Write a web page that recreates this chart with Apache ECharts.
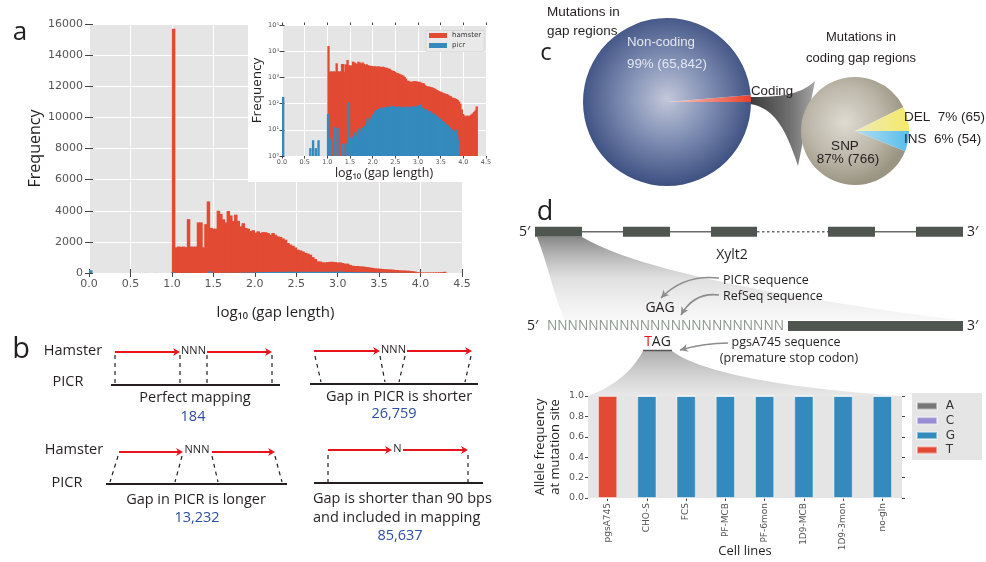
<!DOCTYPE html>
<html>
<head>
<meta charset="utf-8">
<title>Gap analysis figure</title>
<script src="https://cdn.jsdelivr.net/npm/echarts@6.0.0/dist/echarts.min.js"></script>
<style>
html, body { margin:0; padding:0; background:#ffffff; }
#chart { width:986px; height:562px; }
</style>
</head>
<body>
<div id="chart"></div>
<script>
// ================= DATA =================
// Panel a: histogram of log10(gap length), bins of equal width
const binWidth = 0.03;
const hamsterStart = 1.0;
const hamsterCounts = [
  15700, 1650, 1700, 1680, 1700, 1660, 3460, 1700, 1690, 1700,
  3250, 3250, 1650, 3140, 4600, 2900, 2850, 2850, 4000, 3800,
  3450, 3250, 3980, 3700, 3350, 3750, 3350, 3000, 3200, 2900,
  2850, 2700, 2750, 2600, 2680, 2570, 2630, 2620, 2570, 2460,
  2570, 2460, 2350, 2320, 2220, 2140, 1930, 1820, 1750, 1640,
  1500, 1450, 1390, 1300, 1250, 1180, 1030, 900, 750, 740,
  690, 680, 700, 720, 720, 700, 680, 680, 640, 600,
  600, 520, 470, 450, 450, 430, 420, 400, 380, 350,
  330, 300, 290, 280, 260, 250, 240, 230, 220, 200,
  190, 170, 165, 160, 150, 140, 120, 100, 60, 40,
  35, 32, 35, 33, 35, 38, 42, 48, 55, 78
];
const picrSparseX = [0.00, 0.60, 0.66, 0.72, 0.78, 0.99, 1.02, 1.05, 1.14, 1.20, 1.32, 1.38];
const picrSparseCounts = [180, 2, 4, 2, 4, 40, 5, 4, 13, 12, 3, 3];
const picrStart = 1.44;
const picrCounts = [
  110, 3, 5, 5, 6, 8, 6, 9, 11, 8,
  12, 10, 14, 18, 28, 17, 24, 30, 38, 45,
  52, 58, 62, 64, 70, 66, 72, 70, 75, 71,
  78, 74, 82, 72, 78, 75, 70, 79, 72, 76,
  70, 74, 72, 78, 70, 76, 72, 80, 70, 78,
  75, 86, 80, 92, 72, 66, 60, 62, 54, 50,
  52, 45, 40, 42, 36, 34, 30, 28, 25, 22,
  20, 18, 16, 15, 13, 12, 10, 9, 8, 10,
  6, 4
];

// Panel b: mapping cases
const mappingCases = ['Perfect mapping', 'Gap in PICR is shorter', 'Gap in PICR is longer', 'Gap is shorter than 90 bps\nand included in mapping'];
const mappingCounts = [184, 26759, 13232, 85637];

// Panel c: mutations
const gapMutLabels = ['Coding', 'Non-coding'];
const gapMutCounts = [885, 65842];
const codingMutLabels = ['DEL', 'INS', 'SNP'];
const codingMutCounts = [65, 54, 766];
const codingMutPct = [7, 6, 87];

// Panel d: allele frequencies
const cellLines = ['pgsA745', 'CHO-S', 'FCS', 'PF-MCB', 'PF-6mon', '1D9-MCB', '1D9-3mon', 'no-gln'];
const alleleA = [0, 0, 0, 0, 0, 0, 0, 0];
const alleleC = [0, 0, 0, 0, 0, 0, 0, 0];
const alleleG = [0, 1, 1, 1, 1, 1, 1, 1];
const alleleT = [1, 0, 0, 0, 0, 0, 0, 0];

// ================= STYLE =================
const FD = '"DejaVu Sans", sans-serif';
const FM = '"Open Sans", "Noto Sans", sans-serif';
const FA = '"Liberation Sans", Arial, sans-serif';
const C_RED = '#E24A33', C_BLUE = '#348ABD', C_PURPLE = '#988ED5', C_GREY = '#777777';
const BG = '#E5E5E5';
const INK = '#231f20';
const fmt = n => String(n).replace(/\B(?=(\d{3})+(?!\d))/g, ',');
const SUP = ['\u2070', '\u00b9', '\u00b2', '\u00b3', '\u2074', '\u2075'];

const hamsterData = hamsterCounts.map((c, i) => [hamsterStart + i * binWidth, hamsterStart + (i + 1) * binWidth, c]);
const picrData = picrSparseX.map((x, i) => [x, x + binWidth, picrSparseCounts[i]])
  .concat(picrCounts.map((c, i) => [picrStart + i * binWidth, picrStart + (i + 1) * binWidth, c]));

function histSeries(name, data, xi, yi, base, color, z) {
  return {
    type: 'custom', name, xAxisIndex: xi, yAxisIndex: yi, z, clip: true, silent: true,
    itemStyle: { color }, encode: { x: [0, 1], y: 2 }, data,
    renderItem(params, api) {
      const v = api.value(2);
      if (!(v > base)) return null;
      const a = api.coord([api.value(0), v]);
      const b = api.coord([api.value(1), base]);
      return { type: 'rect', shape: { x: a[0], y: a[1], width: b[0] - a[0] + 1, height: b[1] - a[1] }, style: { fill: color } };
    }
  };
}

// ================= GRAPHICS (diagrams / annotations) =================
const G = [];
function add(e) { e.silent = true; G.push(e); }
function text(x, y, s, o) {
  o = o || {};
  const al = o.align || 'center';
  const st = { text: s, fill: o.color || INK, fontSize: o.size || 14.5, fontFamily: o.font || FM,
    align: al, textAlign: al, verticalAlign: 'middle', textVerticalAlign: 'middle' };
  if (o.lh) st.lineHeight = o.lh;
  if (o.rich) st.rich = o.rich;
  add({ type: 'text', x, y, z: o.z != null ? o.z : 20, style: st });
}
function line(x1, y1, x2, y2, o) {
  o = o || {};
  add({ type: 'line', z: o.z != null ? o.z : 20, shape: { x1, y1, x2, y2 },
    style: { stroke: o.color || INK, lineWidth: o.w || 1.5, lineDash: o.dash || null, fill: null } });
}
function dashed(x1, y1, x2, y2) { line(x1, y1, x2, y2, { w: 1.2, dash: [4, 4] }); }
function arrowHead(x, y, ang, color, len, half) {
  const c = Math.cos(ang), s = Math.sin(ang);
  const bx = x - len * c, by = y - len * s;
  const nx = x - len * 0.7 * c, ny = y - len * 0.7 * s;
  add({ type: 'polygon', z: 20, shape: { points: [[x, y], [bx - half * s, by + half * c], [nx, ny], [bx + half * s, by - half * c]] }, style: { fill: color } });
}
function redArrow(x1, x2, y) {
  line(x1, y, x2 - 3, y, { color: '#e8141b', w: 2 });
  arrowHead(x2, y, 0, '#e8141b', 7, 4);
}
function curvedArrow(x1, y1, cx, cy, x2, y2) {
  add({ type: 'bezierCurve', z: 20, shape: { x1, y1, x2, y2, cpx1: cx, cpy1: cy }, style: { stroke: '#8c8c8c', lineWidth: 1.6, fill: null } });
  arrowHead(x2, y2, Math.atan2(y2 - cy, x2 - cx), '#8c8c8c', 8, 4);
}
function bez(p0, p1, p2, p3, n) {
  const pts = [];
  n = n || 24;
  for (let i = 0; i <= n; i++) {
    const t = i / n, u = 1 - t;
    pts.push([u * u * u * p0[0] + 3 * u * u * t * p1[0] + 3 * u * t * t * p2[0] + t * t * t * p3[0],
              u * u * u * p0[1] + 3 * u * u * t * p1[1] + 3 * u * t * t * p2[1] + t * t * t * p3[1]]);
  }
  return pts;
}
const LG = (x, y, x2, y2, stops) => new echarts.graphic.LinearGradient(x, y, x2, y2, stops);

// white box behind the inset
add({ type: 'rect', z: 10, shape: { x: 248, y: 0, width: 262, height: 182 }, style: { fill: '#ffffff' } });

// panel letters
text(20, 33, 'a', { size: 26 });
text(21, 350, 'b', { size: 29 });
text(546, 53, 'c', { size: 24 });
text(545, 212, 'd', { size: 27 });

// ---- Panel b ----
const BL = '#2b4ea2';
text(73, 351, 'Hamster'); text(68, 382, 'PICR');
text(74, 450, 'Hamster'); text(67, 483, 'PICR');
// case 1
redArrow(115, 180, 352); text(193.5, 351, 'NNN', { size: 11 }); redArrow(207, 272, 352);
[115, 180, 207, 272].forEach(x => dashed(x, 355, x, 383));
line(111, 385, 280, 385, { w: 2 });
text(195, 398, mappingCases[0]); text(193, 417, fmt(mappingCounts[0]), { color: BL });
// case 2
redArrow(314, 380, 351); text(393.5, 350, 'NNN', { size: 11 }); redArrow(407, 472, 351);
dashed(315, 356, 321, 382); dashed(380, 356, 385, 382); dashed(405, 356, 399, 382); dashed(471, 356, 465, 382);
line(310, 384, 478, 384, { w: 2 });
text(399, 397, mappingCases[1]); text(394, 414, fmt(mappingCounts[1]), { color: BL });
// case 3
redArrow(119, 183, 452); text(197, 450, 'NNN', { size: 11 }); redArrow(212, 275, 452);
dashed(118, 456, 110, 482); dashed(182, 456, 175, 482); dashed(212, 456, 218, 482); dashed(275, 456, 282, 482);
line(106, 484, 287, 484, { w: 2 });
text(196, 500, mappingCases[2]); text(197, 518, fmt(mappingCounts[2]), { color: BL });
// case 4
redArrow(328, 392, 450); text(397.5, 449, 'N', { size: 11 }); redArrow(403, 468, 450);
dashed(328, 455, 328, 482); dashed(468, 455, 468, 482);
line(314, 483, 483, 483, { w: 2 });
text(313, 508.5, mappingCases[3], { align: 'left', lh: 19 }); text(400, 536, fmt(mappingCounts[3]), { color: BL });

// ---- Panel c ----
const codingTotal = gapMutCounts[0];
const gapTotal = gapMutCounts[0] + gapMutCounts[1];
// connector between the two pies
add({ type: 'polygon', z: 1, shape: { points:
  bez([750, 97], [780, 97], [800, 95], [815, 81]).concat(bez([798, 166], [786, 130], [775, 108], [750, 104])) },
  style: { fill: LG(0, 0, 1, 0, [{ offset: 0, color: '#3b3b3b' }, { offset: 0.6, color: '#6e6e6e' }, { offset: 1, color: '#a5a5a5' }]) } });
text(547, 21.5, 'Mutations in\ngap regions', { align: 'left', size: 13.5, font: FA, lh: 19 });
text(627, 42, gapMutLabels[1], { align: 'left', size: 13.3, font: FA, color: '#e3e6ef' });
text(627, 64, Math.round(100 * gapMutCounts[1] / gapTotal) + '% (' + fmt(gapMutCounts[1]) + ')', { align: 'left', size: 13.3, font: FA, color: '#e3e6ef' });
text(751, 91, gapMutLabels[0], { align: 'left', size: 13.3, font: FA });
text(861, 47.5, 'Mutations in\ncoding gap regions', { size: 13, font: FA, lh: 21 });
text(904, 117, codingMutLabels[0] + '  ' + codingMutPct[0] + '% (' + codingMutCounts[0] + ')', { align: 'left', size: 13.5, font: FA });
text(904, 139, codingMutLabels[1] + '  ' + codingMutPct[1] + '% (' + codingMutCounts[1] + ')', { align: 'left', size: 13.5, font: FA });
text(845, 146, codingMutLabels[2], { size: 13.5, font: FA });
text(848, 159, codingMutPct[2] + '% (' + codingMutCounts[2] + ')', { size: 13.5, font: FA });

// ---- Panel d diagram ----
const EXON = '#4f5650';
// funnel from exon 1 to the zoomed sequence
add({ type: 'polygon', z: 1, shape: { points:
  bez([537, 237], [548, 265], [555, 300], [565, 320]).concat([[958, 320]]).concat(bez([958, 320], [800, 300], [640, 272], [582, 237])) },
  style: { fill: LG(0, 0, 0, 1, [{ offset: 0, color: 'rgba(115,115,115,0.85)' }, { offset: 0.5, color: 'rgba(185,185,185,0.45)' }, { offset: 1, color: 'rgba(225,225,225,0.25)' }]) } });
// funnel from TAG to bar chart
add({ type: 'polygon', z: 1, shape: { points:
  bez([643, 351], [630, 376], [605, 390], [588, 396]).concat([[902, 396]]).concat(bez([902, 396], [780, 388], [700, 372], [672, 351])) },
  style: { fill: LG(0, 0, 0, 1, [{ offset: 0, color: 'rgba(140,140,140,0.7)' }, { offset: 1, color: 'rgba(205,205,205,0.45)' }]) } });
// gene structure
line(582, 231.7, 623, 231.7, { color: '#6b6b6b', w: 1.5 });
line(670, 231.7, 711, 231.7, { color: '#6b6b6b', w: 1.5 });
line(757, 231.7, 828, 231.7, { color: '#6b6b6b', w: 1.5, dash: [2.5, 2.5] });
line(875, 231.7, 916, 231.7, { color: '#6b6b6b', w: 1.5 });
[[535, 582], [623, 670], [711, 757], [828, 875], [916, 963]].forEach(b =>
  add({ type: 'rect', z: 20, shape: { x: b[0], y: 226.7, width: b[1] - b[0], height: 10 }, style: { fill: EXON } }));
text(519, 232, '5\u2032', { align: 'left', size: 14 });
text(967, 232, '3\u2032', { align: 'left', size: 14 });
text(732, 255, 'Xylt2', { size: 14 });
// sequence row
text(527, 326, '5\u2032', { align: 'left', size: 14 });
text(547, 326, 'NNNNNNNNNNNNNNNNNNNNNNN', { align: 'left', size: 13.7, color: '#8a958b' });
add({ type: 'rect', z: 20, shape: { x: 788, y: 321, width: 175, height: 10 }, style: { fill: EXON } });
text(967, 326, '3\u2032', { align: 'left', size: 14 });
text(660, 308, 'GAG', { size: 14 });
text(657.5, 342, '{r|T}{k|AG}', { size: 14, rich: { r: { fill: '#e8141b', fontSize: 14, fontFamily: FM }, k: { fill: INK, fontSize: 14, fontFamily: FM } } });
line(643, 350.5, 672, 350.5, { color: '#555', w: 1.5 });
text(723, 280, 'PICR sequence', { align: 'left', size: 12.5 });
text(723, 296, 'RefSeq sequence', { align: 'left', size: 12.5 });
text(786, 342, 'pgsA745 sequence', { size: 12.5 });
text(789, 358, '(premature stop codon)', { size: 12.5 });
curvedArrow(719, 278, 684, 274, 661, 298);
curvedArrow(719, 295, 694, 292, 681, 315);
curvedArrow(728, 343, 705, 343, 680, 350);
// legend background for bar chart
add({ type: 'rect', z: 3, shape: { x: 912, y: 393, width: 70, height: 67 }, style: { fill: BG } });
// x-axis title of bar chart
text(745, 551, 'Cell lines', { size: 13 });

// ================= CHART =================
const tickStyle = { color: '#444', width: 1 };
function tickAxis(base) {
  return Object.assign({ axisLabel: { show: false }, splitLine: { show: false }, axisLine: { show: false } }, base);
}
const supFmt = v => '10' + SUP[Math.round(Math.log10(v))];

const option = {
  animation: false,
  backgroundColor: '#ffffff',
  grid: [
    { left: 89, top: 24, width: 373, height: 249, show: true, backgroundColor: BG, borderWidth: 0, z: 0, outerBoundsMode: 'none' },
    { left: 282, top: 25, width: 204, height: 131, show: true, backgroundColor: BG, borderWidth: 0, z: 11, outerBoundsMode: 'none' },
    { left: 588, top: 396, width: 314, height: 102, show: true, backgroundColor: BG, borderWidth: 0, z: 2, outerBoundsMode: 'none' }
  ],
  xAxis: [
    { type: 'value', gridIndex: 0, min: 0, max: 4.5, interval: 0.5, position: 'bottom',
      name: 'log\u2081\u2080 (gap length)', nameLocation: 'middle', nameGap: 32,
      nameTextStyle: { fontFamily: FM, fontSize: 15, color: INK },
      axisLine: { show: false }, axisTick: { show: true, length: 4, lineStyle: tickStyle },
      axisLabel: { fontFamily: FD, fontSize: 11, color: '#555', margin: 6, formatter: v => v.toFixed(1), showMinLabel: true, showMaxLabel: true, hideOverlap: false },
      splitLine: { show: true, lineStyle: { color: '#fff', width: 1 } } },
    tickAxis({ type: 'value', gridIndex: 0, min: 0, max: 4.5, interval: 0.5, position: 'top', axisTick: { show: true, length: 4, lineStyle: tickStyle } }),
    { type: 'value', gridIndex: 1, min: 0, max: 4.5, interval: 0.5, position: 'bottom', z: 12,
      name: 'log\u2081\u2080 (gap length)', nameLocation: 'middle', nameGap: 11,
      nameTextStyle: { fontFamily: FM, fontSize: 12.5, color: INK },
      axisLine: { show: false }, axisTick: { show: true, length: 2.5, lineStyle: tickStyle },
      axisLabel: { fontFamily: FD, fontSize: 6.5, color: '#555', margin: 3, formatter: v => v.toFixed(1), showMinLabel: true, showMaxLabel: true, hideOverlap: false },
      splitLine: { show: true, lineStyle: { color: '#fff', width: 1 } } },
    tickAxis({ type: 'value', gridIndex: 1, min: 0, max: 4.5, interval: 0.5, position: 'top', z: 12, axisTick: { show: true, length: 2.5, lineStyle: tickStyle } }),
    { type: 'category', gridIndex: 2, data: cellLines, position: 'bottom', boundaryGap: true,
      axisLine: { show: false }, axisTick: { show: true, length: 3, alignWithLabel: true, lineStyle: tickStyle },
      axisLabel: { fontFamily: FD, fontSize: 9, color: '#555', rotate: 90, margin: 5, interval: 0, hideOverlap: false },
      splitLine: { show: false } },
    tickAxis({ type: 'category', gridIndex: 2, data: cellLines, position: 'top', boundaryGap: true, axisTick: { show: true, length: 3, alignWithLabel: true, lineStyle: tickStyle } })
  ],
  yAxis: [
    { type: 'value', gridIndex: 0, min: 0, max: 16000, interval: 2000, position: 'left',
      name: 'Frequency', nameLocation: 'middle', nameGap: 46,
      nameTextStyle: { fontFamily: FM, fontSize: 16, color: INK },
      axisLine: { show: false }, axisTick: { show: true, length: 4, lineStyle: tickStyle },
      axisLabel: { fontFamily: FD, fontSize: 11, color: '#555', margin: 6, formatter: v => String(v), showMinLabel: true, showMaxLabel: true },
      splitLine: { show: true, lineStyle: { color: '#fff', width: 1 } } },
    tickAxis({ type: 'value', gridIndex: 0, min: 0, max: 16000, interval: 2000, position: 'right', axisTick: { show: true, length: 4, lineStyle: tickStyle } }),
    { type: 'log', gridIndex: 1, min: 1, max: 100000, logBase: 10, position: 'left', z: 12,
      name: 'Frequency', nameLocation: 'middle', nameGap: 16,
      nameTextStyle: { fontFamily: FM, fontSize: 13.5, color: INK },
      axisLine: { show: false }, axisTick: { show: true, length: 2.5, lineStyle: tickStyle },
      axisLabel: { fontFamily: FD, fontSize: 6.5, color: '#555', margin: 3, formatter: supFmt, showMinLabel: true, showMaxLabel: true },
      splitLine: { show: true, lineStyle: { color: '#fff', width: 1 } } },
    tickAxis({ type: 'log', gridIndex: 1, min: 1, max: 100000, logBase: 10, position: 'right', z: 12, axisTick: { show: true, length: 2.5, lineStyle: tickStyle } }),
    { type: 'value', gridIndex: 2, min: 0, max: 1, interval: 0.2, position: 'left',
      name: 'Allele frequency\nat mutation site', nameLocation: 'middle', nameGap: 25,
      nameTextStyle: { fontFamily: FM, fontSize: 13, color: INK, lineHeight: 15 },
      axisLine: { show: false }, axisTick: { show: true, length: 3, lineStyle: tickStyle },
      axisLabel: { fontFamily: FD, fontSize: 9.5, color: '#555', margin: 4, formatter: v => v.toFixed(1), showMinLabel: true, showMaxLabel: true },
      splitLine: { show: true, lineStyle: { color: '#fff', width: 1 } } },
    tickAxis({ type: 'value', gridIndex: 2, min: 0, max: 1, interval: 0.2, position: 'right', axisTick: { show: true, length: 3, lineStyle: tickStyle } })
  ],
  legend: [
    { data: ['hamster', 'picr'], orient: 'vertical', left: 426, top: 30.5, z: 15, icon: 'rect',
      itemWidth: 18, itemHeight: 5, itemGap: 2, padding: [1, 3, 2, 3], selectedMode: false,
      backgroundColor: '#e9e9e9', borderColor: '#cfcfcf', borderWidth: 0.6,
      textStyle: { fontFamily: FD, fontSize: 7, color: '#333', lineHeight: 8 } },
    { data: ['A', 'C', 'G', 'T'], orient: 'vertical', left: 916, top: 399.5, z: 5, icon: 'rect',
      itemWidth: 20, itemHeight: 7, itemGap: 1.7, padding: 0, selectedMode: false,
      formatter: n => ' ' + n,
      textStyle: { fontFamily: FD, fontSize: 12, color: '#333', lineHeight: 13 } }
  ],
  series: [
    histSeries('hamster', hamsterData, 0, 0, 0, C_RED, 2),
    histSeries('picr', picrData, 0, 0, 0, C_BLUE, 3),
    histSeries('hamster', hamsterData, 2, 2, 1, C_RED, 13),
    histSeries('picr', picrData, 2, 2, 1, C_BLUE, 14),
    ...[['A', alleleA, C_GREY], ['C', alleleC, C_PURPLE], ['G', alleleG, C_BLUE], ['T', alleleT, C_RED]].map(s => ({
      type: 'bar', name: s[0], data: s[1], stack: 'allele', xAxisIndex: 4, yAxisIndex: 4, barWidth: '49%', silent: true,
      itemStyle: { color: s[2], borderColor: 'rgba(255,255,255,0.45)', borderWidth: 1 }, z: 4
    })),
    { type: 'pie', name: 'gap', center: [667, 102], radius: 84, startAngle: 360 * codingTotal / gapTotal, clockwise: true,
      silent: true, label: { show: false }, labelLine: { show: false }, z: 2,
      data: [
        { name: gapMutLabels[0], value: gapMutCounts[0], itemStyle: { color: { type: 'linear', x: 0, y: 0, x2: 1, y2: 0, colorStops: [{ offset: 0, color: 'rgba(232,70,50,0.25)' }, { offset: 1, color: '#ea3f27' }] } } },
        { name: gapMutLabels[1], value: gapMutCounts[1], itemStyle: { color: { type: 'radial', x: 0.5, y: 0.48, r: 0.52, colorStops: [{ offset: 0, color: '#c3c8da' }, { offset: 0.45, color: '#8492b6' }, { offset: 1, color: '#3d5081' }] } } }
      ] },
    { type: 'pie', name: 'coding', center: [855, 131], radius: 54, startAngle: 360 * codingMutCounts[0] / (codingMutCounts[0] + codingMutCounts[1] + codingMutCounts[2]), clockwise: true,
      silent: true, label: { show: false }, labelLine: { show: false }, z: 2,
      data: [
        { name: codingMutLabels[0], value: codingMutCounts[0], itemStyle: { color: { type: 'linear', x: 0, y: 0, x2: 1, y2: 0, colorStops: [{ offset: 0, color: '#efeab8' }, { offset: 1, color: '#f4e96a' }] } } },
        { name: codingMutLabels[1], value: codingMutCounts[1], itemStyle: { color: { type: 'linear', x: 0, y: 0, x2: 1, y2: 0, colorStops: [{ offset: 0, color: '#b3def2' }, { offset: 1, color: '#58bdea' }] } } },
        { name: codingMutLabels[2], value: codingMutCounts[2], itemStyle: { color: { type: 'radial', x: 0.42, y: 0.42, r: 0.6, colorStops: [{ offset: 0, color: '#dedbd2' }, { offset: 0.6, color: '#bbb6a8' }, { offset: 1, color: '#9a9482' }] } } }
      ] }
  ],
  graphic: { elements: G }
};

const chart = echarts.init(document.getElementById('chart'), null, { renderer: 'canvas', width: 986, height: 562 });
chart.setOption(option);
</script>
</body>
</html>
